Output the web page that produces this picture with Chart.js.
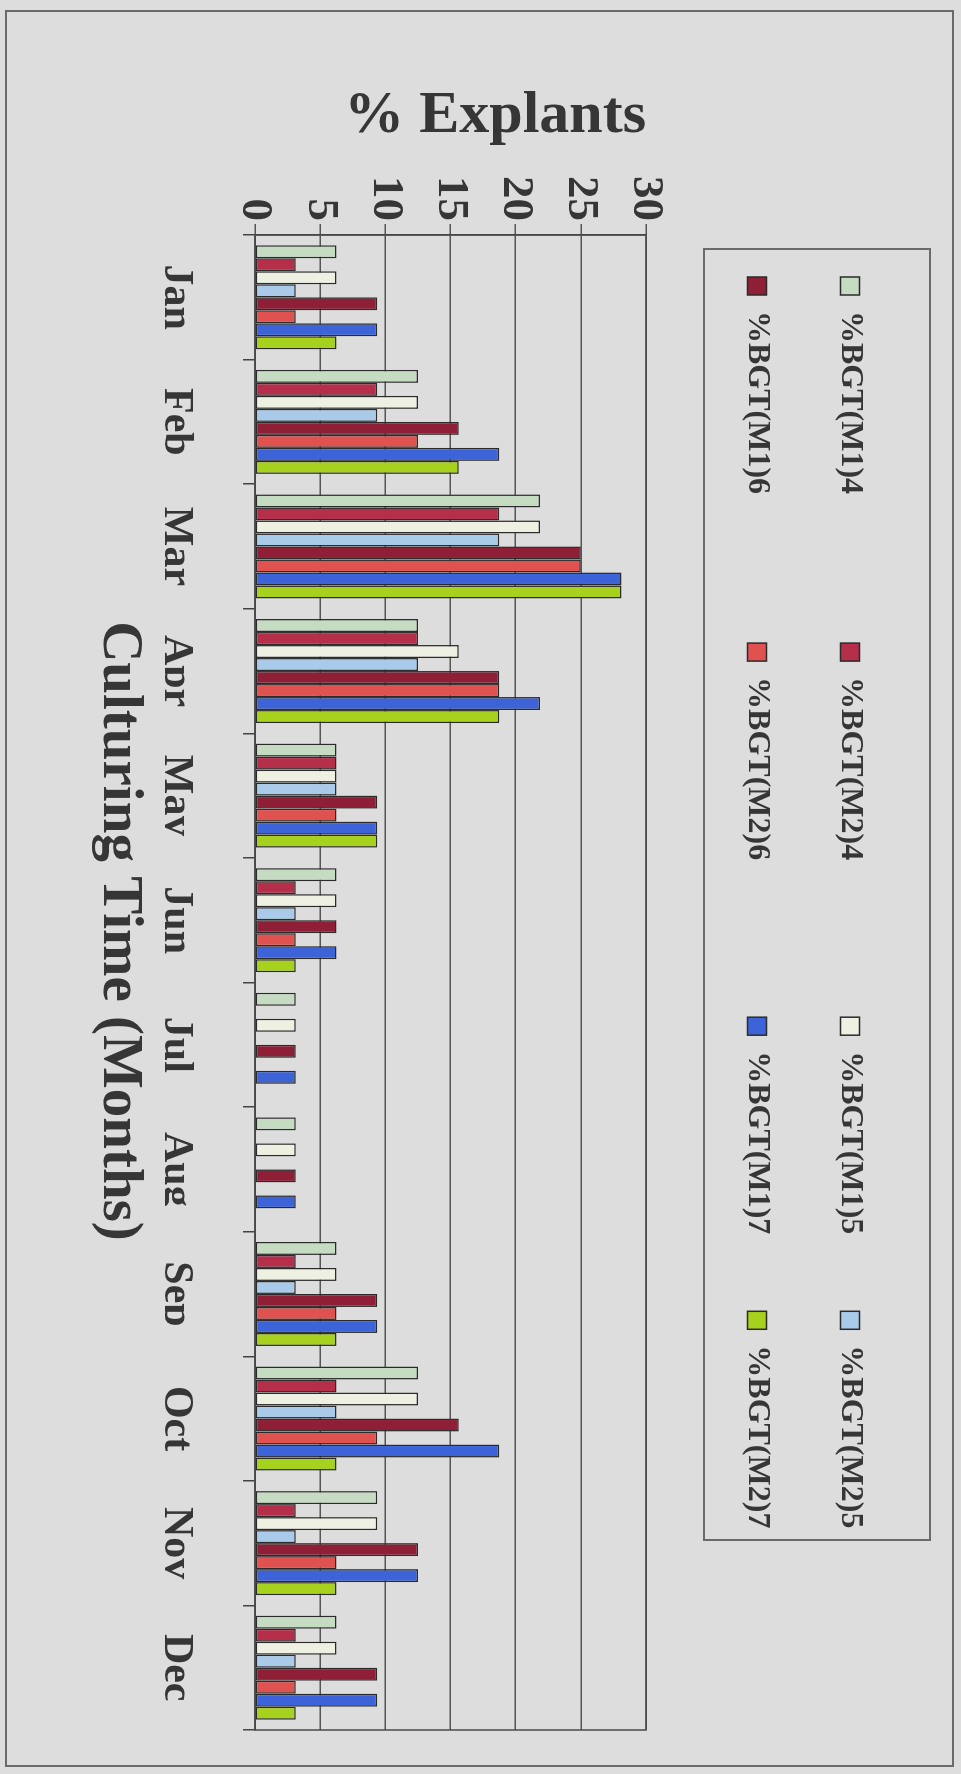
<!DOCTYPE html>
<html>
<head>
<meta charset="utf-8">
<script src="https://cdn.jsdelivr.net/npm/chart.js@4.4.1/dist/chart.umd.min.js"></script>
<style>
html,body{margin:0;padding:0;background:#dddddd;}
#wrap{position:relative;width:961px;height:1774px;overflow:hidden;background:#dddddd;}
#c{position:absolute;left:0;top:0;transform-origin:0 0;transform:translate(961px,0) rotate(90deg);}
</style>
</head>
<body>
<div id="wrap"><canvas id="c" width="1774" height="961"></canvas></div>
<script>
// ---- data ----
const months = ['Jan','Feb','Mar','Apr','May','Jun','Jul','Aug','Sep','Oct','Nov','Dec'];
const seriesNames = ['%BGT(M1)4','%BGT(M2)4','%BGT(M1)5','%BGT(M2)5','%BGT(M1)6','%BGT(M2)6','%BGT(M1)7','%BGT(M2)7'];
const bgtM1_4 = [6.25, 12.5, 21.875, 12.5, 6.25, 6.25, 3.125, 3.125, 6.25, 12.5, 9.375, 6.25];
const bgtM2_4 = [3.125, 9.375, 18.75, 12.5, 6.25, 3.125, 0, 0, 3.125, 6.25, 3.125, 3.125];
const bgtM1_5 = [6.25, 12.5, 21.875, 15.625, 6.25, 6.25, 3.125, 3.125, 6.25, 12.5, 9.375, 6.25];
const bgtM2_5 = [3.125, 9.375, 18.75, 12.5, 6.25, 3.125, 0, 0, 3.125, 6.25, 3.125, 3.125];
const bgtM1_6 = [9.375, 15.625, 25, 18.75, 9.375, 6.25, 3.125, 3.125, 9.375, 15.625, 12.5, 9.375];
const bgtM2_6 = [3.125, 12.5, 25, 18.75, 6.25, 3.125, 0, 0, 6.25, 9.375, 6.25, 3.125];
const bgtM1_7 = [9.375, 18.75, 28.125, 21.875, 9.375, 6.25, 3.125, 3.125, 9.375, 18.75, 12.5, 9.375];
const bgtM2_7 = [6.25, 15.625, 28.125, 18.75, 9.375, 3.125, 0, 0, 6.25, 6.25, 6.25, 3.125];
const valueTicks = [0, 5, 10, 15, 20, 25, 30];
const valueTitle = '% Explants';
const timeTitle = 'Culturing Time (Months)';

// ---- styles ----
const seriesValues = [bgtM1_4, bgtM2_4, bgtM1_5, bgtM2_5, bgtM1_6, bgtM2_6, bgtM1_7, bgtM2_7];
const seriesColors = ['#c5dcc3','#b52e4a','#eef0e2','#a9cbe9','#8e1f36','#e0524f','#3d63d8','#a6d11c'];
const legendColumnGap = [11, 12, 2, 0]; // trailing spaces per legend column (spacing only)
const FONT = "'Liberation Serif','Times New Roman',serif";
const TEXT = '#363636';

const frame = {
  id: 'frame',
  beforeDraw(chart) {
    const c = chart.ctx;
    c.save();
    c.fillStyle = '#dddddd';
    c.fillRect(0, 0, chart.width, chart.height);
    c.restore();
  },
  afterLayout(chart) {
    const lg = chart.legend;
    if (lg) {
      const h = lg.bottom - lg.top;
      lg.top = 34; lg.bottom = lg.top + h;
      lg.left = 216; lg.right = chart.width;
    }
    const tb = chart.titleBlock;
    if (tb) { tb.left = 0; tb.right = 1862; }
  },
  afterDraw(chart) {
    const c = chart.ctx, a = chart.chartArea;
    c.save();
    c.strokeStyle = '#4a4a4a'; c.lineWidth = 1.5;
    c.strokeRect(a.left, a.top, a.right - a.left, a.bottom - a.top);
    c.strokeStyle = '#6a6a6a'; c.lineWidth = 2;
    c.strokeRect(249, 31, 1291, 226);
    c.strokeRect(11, 8, 1755, 947);
    c.restore();
  }
};

new Chart(document.getElementById('c'), {
  type: 'bar',
  data: {
    labels: months,
    datasets: seriesNames.map((n, i) => ({
      label: n,
      data: seriesValues[i],
      backgroundColor: seriesColors[i],
      borderColor: '#2b2b2b',
      borderWidth: 1.5,
      borderSkipped: false,
      categoryPercentage: 0.835,
      barPercentage: 1.0
    }))
  },
  options: {
    responsive: false,
    animation: false,
    devicePixelRatio: 1,
    layout: { padding: { top: 119, right: 44, left: 0, bottom: 0 } },
    plugins: {
      tooltip: { enabled: false },
      legend: {
        position: 'top',
        align: 'start',
        labels: {
          boxWidth: 18, boxHeight: 19, padding: 61,
          color: TEXT,
          font: { family: FONT, size: 32, weight: 'bold' },
          generateLabels(chart) {
            const items = Chart.defaults.plugins.legend.labels.generateLabels(chart);
            items.forEach((it, i) => { it.text = it.text + ' '.repeat(legendColumnGap[i % 4]); });
            return items;
          }
        }
      },
      title: {
        display: true,
        position: 'bottom',
        text: timeTitle,
        color: TEXT,
        font: { family: FONT, size: 57, weight: 'bold' },
        padding: { top: 11.8, bottom: 84.8 }
      }
    },
    scales: {
      x: {
        grid: { drawOnChartArea: false, drawTicks: true, tickLength: 12, color: '#444', lineWidth: 1.5 },
        border: { display: true, color: '#444', width: 1.5 },
        ticks: { color: TEXT, padding: 42, font: { family: FONT, size: 42, weight: 'bold' } },
        afterFit(s) { s.height = 90; }
      },
      y: {
        min: 0, max: 30,
        afterBuildTicks(s) { s.ticks = valueTicks.map(v => ({ value: v })); },
        grid: { color: '#555', lineWidth: 1.5, tickLength: 11 },
        border: { display: true, color: '#444', width: 1.5 },
        ticks: { color: TEXT, padding: 3, font: { family: FONT, size: 45, weight: 'bold' } },
        title: {
          display: true, text: valueTitle, align: 'end', color: TEXT,
          font: { family: FONT, size: 60, weight: 'bold' },
          padding: { top: 80, bottom: 0 }
        },
        afterFit(s) { s.width = 235; }
      }
    }
  },
  plugins: [frame]
});
</script>
</body>
</html>
